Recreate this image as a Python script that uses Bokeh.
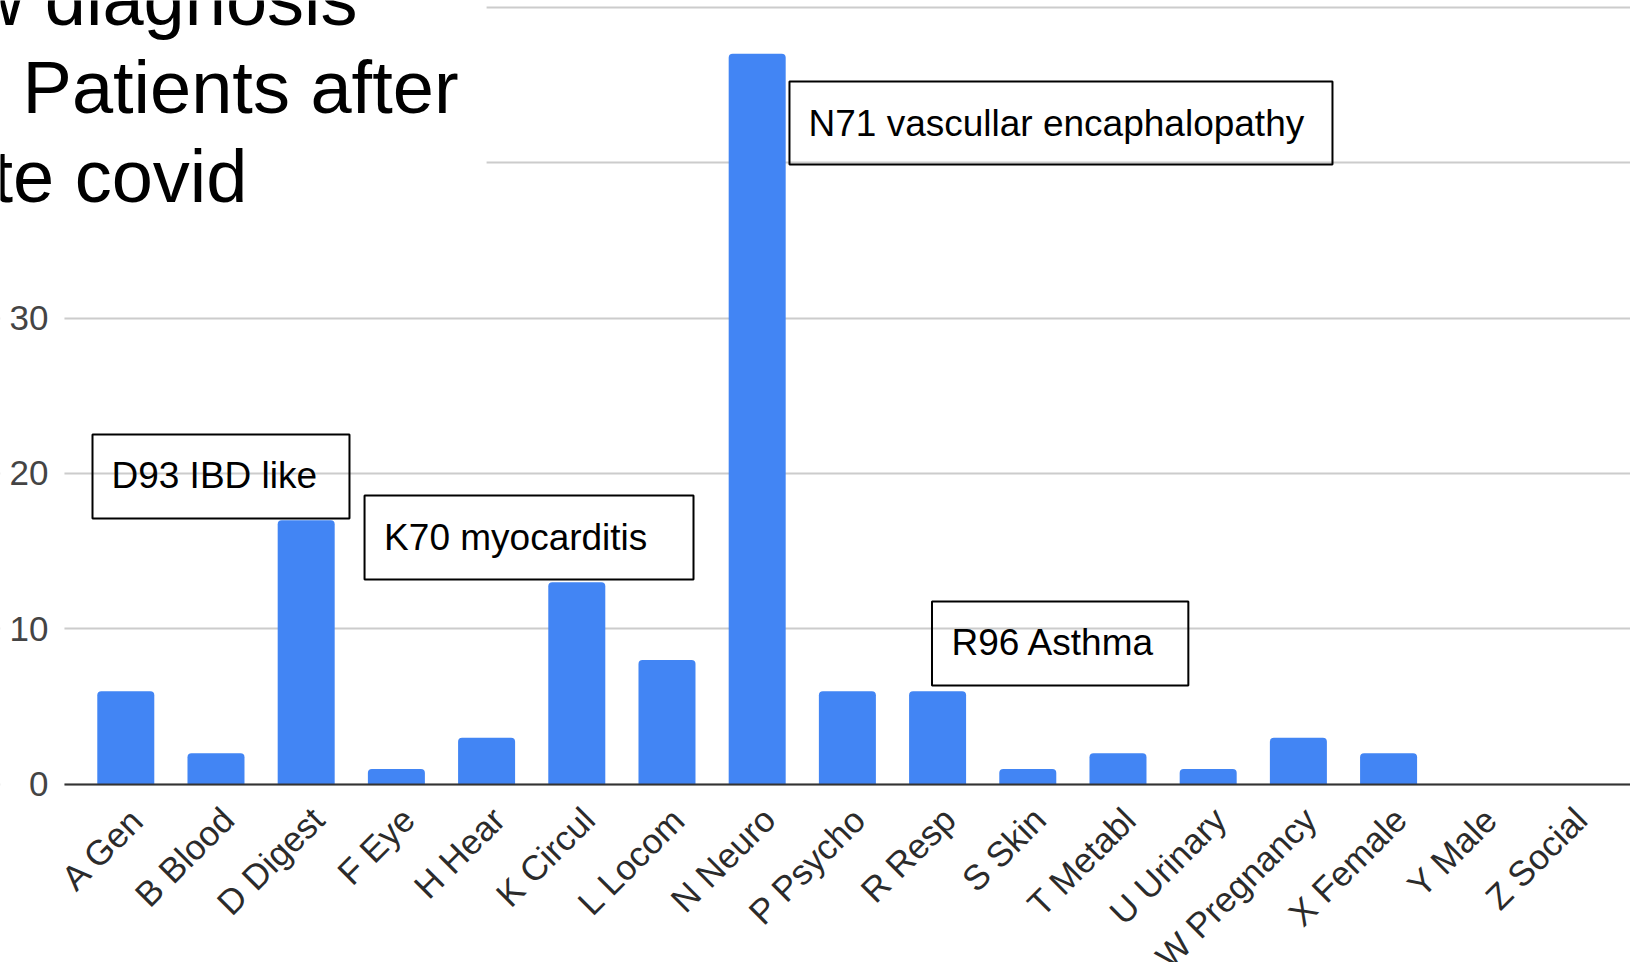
from math import pi
from bokeh.plotting import figure
from bokeh.models import (ColumnDataSource, FixedTicker, Label, BoxAnnotation, Range1d)
from bokeh.embed import file_html
from bokeh.resources import INLINE

# ---- data ----
categories = ["A Gen", "B Blood", "D Digest", "F Eye", "H Hear", "K Circul", "L Locom",
              "N Neuro", "P Psycho", "R Resp", "S Skin", "T Metabl", "U Urinary",
              "W Pregnancy", "X Female", "Y Male", "Z Social"]
counts = [6, 2, 17, 1, 3, 13, 8, 47, 6, 6, 1, 2, 1, 3, 2, 0, 0]
y_ticks = [0, 10, 20, 30, 40, 50]
title_lines = ["w diagnosis", "Patients after", "te covid"]
notes = ["D93 IBD like", "K70 myocarditis", "N71 vascullar encaphalopathy", "R96 Asthma"]

FONT = "Liberation Sans"
BLUE = "#4285F4"

idx = list(range(len(categories)))
src = ColumnDataSource(dict(x=idx, top=counts, name=categories))

X0, X1 = -1.389, 16.682
Y0, Y1 = -11.45, 50.42

p = figure(width=1630, height=962, output_backend="svg", toolbar_location=None,
           x_range=Range1d(X0, X1), y_range=Range1d(Y0, Y1),
           min_border_left=0, min_border_right=0, min_border_top=0,
           min_border_bottom=0)
p.outline_line_color = None
p.background_fill_color = "white"
p.border_fill_color = "white"

p.vbar(x="x", top="top", bottom=0, width=0.632, source=src, fill_color=BLUE,
       line_color=None, border_radius=(4, 4, 0, 0))

# x axis (drawn at value 0)
lab_shift = 0.13
xt = [round(i + lab_shift, 3) for i in idx]
p.xaxis.fixed_location = 0
p.xaxis.bounds = (-0.680, X1)
p.xaxis.ticker = FixedTicker(ticks=xt)
p.xaxis.major_label_overrides = {t: c for t, c in zip(xt, categories)}
p.xaxis.major_label_orientation = pi / 4
p.xaxis.major_label_text_font = FONT
p.xaxis.major_label_text_font_size = "35px"
p.xaxis.major_label_text_color = "#2b2b2b"
p.xaxis.major_tick_line_color = None
p.xaxis.minor_tick_line_color = None
p.xaxis.major_tick_out = 0
p.xaxis.major_tick_in = 0
p.xaxis.major_label_standoff = 29
p.xaxis.axis_line_color = "#333333"
p.xaxis.axis_line_width = 2

# y axis
p.yaxis.fixed_location = -0.657
p.yaxis.ticker = FixedTicker(ticks=y_ticks)
p.yaxis.major_label_overrides = {40: "", 50: ""}
p.yaxis.major_label_text_font = FONT
p.yaxis.major_label_text_font_size = "35px"
p.yaxis.major_label_text_color = "#444444"
p.yaxis.axis_line_color = None
p.yaxis.major_tick_line_color = None
p.yaxis.minor_tick_line_color = None
p.yaxis.major_tick_out = 0
p.yaxis.major_tick_in = 0
p.yaxis.major_label_standoff = 18

p.xgrid.grid_line_color = None
p.ygrid.grid_line_color = "#cccccc"
p.ygrid.grid_line_width = 2

# white masks over the grid: left margin strip and the (cropped) title area
p.add_layout(BoxAnnotation(left=None, right=-0.680, top=None, bottom=None, level="underlay",
                           fill_color="white", fill_alpha=1.0, line_color=None))
p.add_layout(BoxAnnotation(left=None, right=4.0, top=None, bottom=34.98, level="underlay",
                           fill_color="white", fill_alpha=1.0, line_color=None))

# title (cropped in the reference)
title_pos = [(2.569, 50.50), (3.689, 44.84), (1.349, 39.12)]
for t, (tx, ty) in zip(title_lines, title_pos):
    p.add_layout(Label(x=tx, y=ty, text=t, text_align="right", text_baseline="alphabetic",
                       text_font=FONT, text_font_size="74px", text_color="black"))

# annotation boxes
boxes = [(-0.369, 2.480, 22.51, 17.11), (2.647, 6.294, 18.59, 13.18),
         (7.358, 13.378, 45.21, 39.87), (8.938, 11.780, 11.77, 6.37)]
text_pos = [(-0.159, 19.88), (2.864, 15.89), (7.569, 42.51), (9.154, 9.14)]
for (l, r, t, b), (tx, ty), s in zip(boxes, text_pos, notes):
    p.add_layout(BoxAnnotation(left=l, right=r, top=t, bottom=b, fill_alpha=0,
                               line_color="black", line_alpha=1.0, line_width=2))
    p.add_layout(Label(x=tx, y=ty, text=s, text_align="left", text_baseline="alphabetic",
                       text_font=FONT, text_font_size="37px", text_color="black"))

open("out.html", "w").write(file_html(p, INLINE))
